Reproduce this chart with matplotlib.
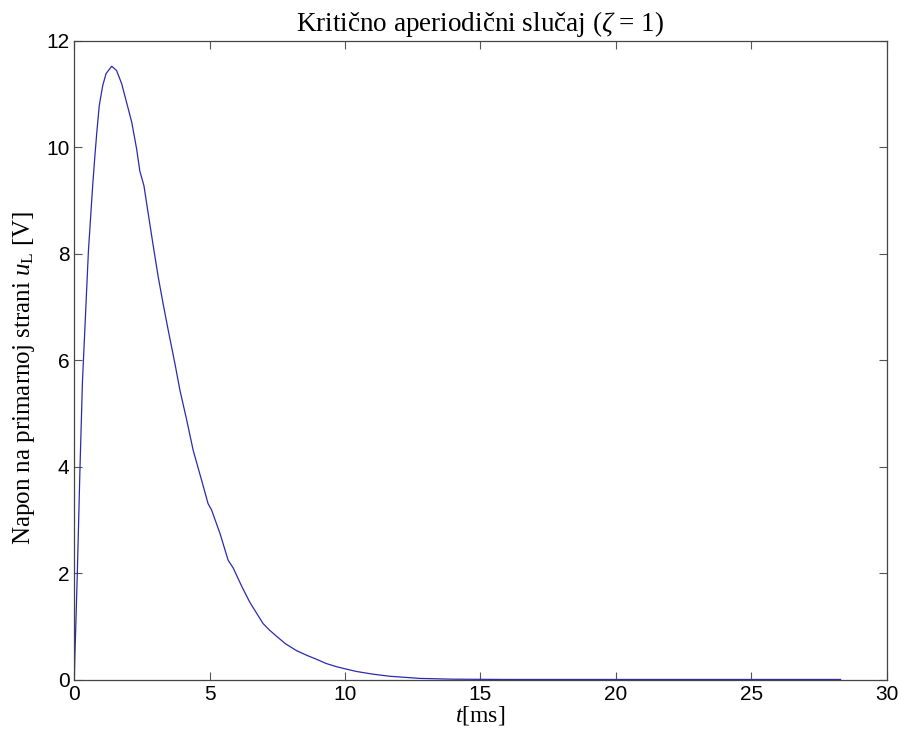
import matplotlib
matplotlib.use("Agg")
import matplotlib.pyplot as plt

# Data
t_ms = [0.0, 0.02, 0.05, 0.11, 0.21, 0.30, 0.52, 0.68, 0.76, 0.83, 0.92, 1.05,
        1.17, 1.38, 1.56, 1.75, 1.93, 2.12, 2.30, 2.42, 2.57, 2.73, 2.92, 3.10,
        3.28, 3.47, 3.73, 3.90, 4.15, 4.39, 4.70, 4.94, 5.07, 5.38, 5.68, 5.87,
        6.20, 6.48, 6.97, 7.20, 7.47, 7.80, 8.21, 8.60, 8.94, 9.30, 9.68, 10.0,
        10.42, 11.02, 11.65, 12.76, 14.0, 16.0, 20.0, 24.0, 28.3]
u_L = [0.0, 0.45, 0.94, 2.0, 4.0, 5.6, 8.05, 9.3, 9.84, 10.28, 10.78, 11.16,
       11.38, 11.52, 11.44, 11.19, 10.84, 10.47, 9.97, 9.55, 9.28, 8.75, 8.13, 7.56,
       7.06, 6.56, 5.9, 5.44, 4.88, 4.31, 3.75, 3.31, 3.19, 2.75, 2.25, 2.10,
       1.74, 1.46, 1.06, 0.94, 0.82, 0.68, 0.55, 0.46, 0.39, 0.31, 0.25, 0.21,
       0.16, 0.11, 0.07, 0.03, 0.015, 0.01, 0.01, 0.01, 0.01]

x_ticks = [0, 5, 10, 15, 20, 25, 30]
y_ticks = [0, 2, 4, 6, 8, 10, 12]

plt.rcParams['mathtext.fontset'] = 'custom'
plt.rcParams['mathtext.rm'] = 'Liberation Serif'
plt.rcParams['mathtext.it'] = 'Liberation Serif:italic'

fig = plt.figure(figsize=(9.01, 7.38), dpi=100)
ax = fig.add_axes([0.0825, 0.0786, 0.9015, 0.8663])
ax.plot(t_ms, u_L, color='#2a2ab0', lw=0.9)

ax.set_xlim(0, 30)
ax.set_ylim(0, 12)
ax.set_xticks(x_ticks)
ax.set_yticks(y_ticks)
ax.tick_params(direction='in', top=True, right=True, length=6, width=0.8,
               labelsize=15, colors='#555555', labelcolor='black')
for lab in ax.get_xticklabels() + ax.get_yticklabels():
    lab.set_fontfamily('Liberation Sans')
for s in ax.spines.values():
    s.set_color('#444444')
    s.set_linewidth(0.9)

ax.set_title('Kritično aperiodični slučaj ($\\zeta$ = 1)', fontfamily='Liberation Serif',
             fontsize=19.5, pad=7)
ax.set_xlabel('$t$[ms]', fontfamily='Liberation Serif', fontsize=17, labelpad=0)
ax.set_ylabel('Napon na primarnoj strani $u_\\mathrm{L}$ [V]', fontfamily='Liberation Serif',
              fontsize=18)
ax.yaxis.set_label_coords(-0.046, 0.473)

fig.savefig('out.png', dpi=100)
